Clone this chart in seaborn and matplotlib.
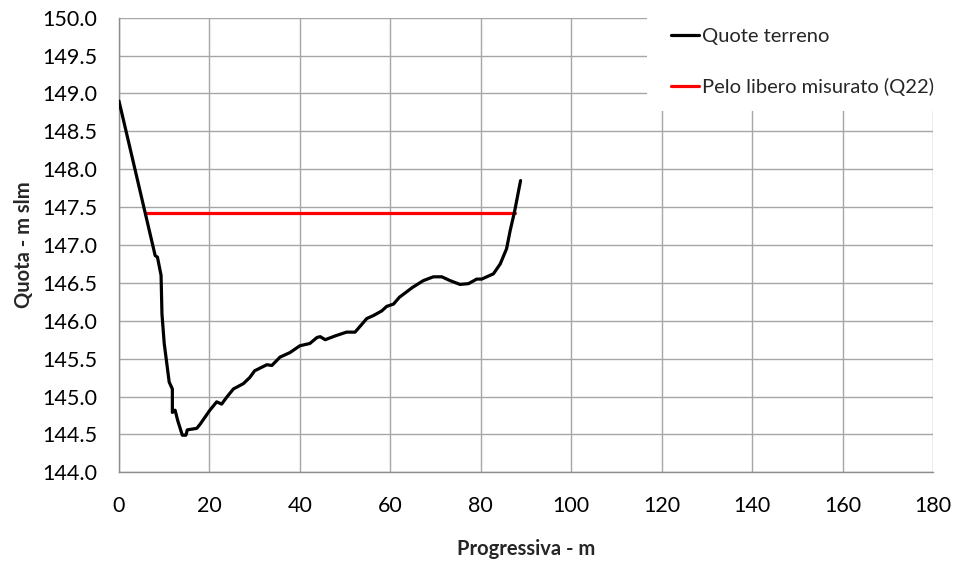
import matplotlib
matplotlib.use("Agg")
import matplotlib.pyplot as plt
import seaborn as sns
import pandas as pd
from matplotlib.patches import Rectangle

# Ground profile of the cross-section (progressive distance in m, elevation in m a.s.l.)
progressiva = [0.0, 8.0, 8.5, 9.3, 9.5, 10.0, 11.1, 11.8, 11.8, 12.4, 13.0, 14.0, 14.8,
               15.1, 17.2, 18.0, 20.1, 21.6, 22.7, 23.8, 25.3, 27.5, 28.9, 30.0, 32.7,
               33.8, 35.6, 37.8, 40.0, 42.2, 43.8, 44.5, 45.6, 47.8, 50.3, 52.2, 54.8,
               56.3, 58.1, 59.2, 60.7, 62.0, 64.9, 67.3, 69.5, 71.4, 73.2, 75.4, 77.3,
               79.1, 80.2, 82.8, 84.3, 85.7, 86.5, 87.5, 88.8]
quota = [148.90, 146.86, 146.84, 146.60, 146.09, 145.70, 145.19, 145.10, 144.79, 144.82,
         144.68, 144.49, 144.49, 144.56, 144.58, 144.64, 144.82, 144.93, 144.90, 144.99,
         145.10, 145.17, 145.25, 145.34, 145.42, 145.41, 145.52, 145.58, 145.67, 145.70,
         145.78, 145.79, 145.75, 145.80, 145.85, 145.85, 146.03, 146.07, 146.13, 146.19,
         146.22, 146.31, 146.44, 146.53, 146.58, 146.58, 146.53, 146.48, 146.49, 146.55,
         146.55, 146.62, 146.75, 146.95, 147.19, 147.45, 147.85]

# Measured free water surface
pelo_x = [6.0, 87.6]
pelo_quota = [147.42, 147.42]

x_ticks = [0, 20, 40, 60, 80, 100, 120, 140, 160, 180]
y_ticks = [144.0, 144.5, 145.0, 145.5, 146.0, 146.5, 147.0, 147.5, 148.0, 148.5,
           149.0, 149.5, 150.0]

sns.set_style("whitegrid")
plt.rcParams["font.family"] = ["Lato", "DejaVu Sans"]

W, H = 957, 563
fig = plt.figure(figsize=(W / 100, H / 100), dpi=100)
ax = fig.add_axes([119 / W, (H - 472.3) / H, 814 / W, (472.3 - 17.7) / H])

terreno = pd.DataFrame({"x": progressiva, "y": quota})
pelo = pd.DataFrame({"x": pelo_x, "y": pelo_quota})

sns.lineplot(data=terreno, x="x", y="y", ax=ax, color="black", linewidth=2.3,
             label="Quote terreno", sort=False, estimator=None, zorder=4)
sns.lineplot(data=pelo, x="x", y="y", ax=ax, color="#ff0000", linewidth=2.3,
             label="Pelo libero misurato (Q22)", sort=False, estimator=None, zorder=3)

ax.set_xlim(0, 180)
ax.set_ylim(144.0, 150.0)
ax.set_xticks(x_ticks)
ax.set_yticks(y_ticks)
ax.set_xticklabels([str(v) for v in x_ticks])
ax.set_yticklabels([f"{v:.1f}" for v in y_ticks])

grid_col = "#a6a6a6"
ax.grid(True, color=grid_col, linewidth=1.0)
for side in ("top", "right"):
    ax.spines[side].set_visible(False)
for side in ("left", "bottom"):
    ax.spines[side].set_color("#8c8c8c")
    ax.spines[side].set_linewidth(1.0)

ax.tick_params(axis="both", which="major", direction="out", length=5.8, width=1.0,
               color="#8c8c8c", labelsize=15.5, labelcolor="black")
ax.tick_params(axis="y", pad=10)
ax.tick_params(axis="x", pad=11)

ax.set_xlabel("Progressiva - m", fontsize=14.5, fontweight="bold", labelpad=17)
ax.set_ylabel("Quota - m slm", fontsize=14.5, fontweight="bold", labelpad=5.5)

# White backdrop behind the legend, hiding the grid in that corner
ax.add_patch(Rectangle((647 / W, (H - 111) / H), (W - 647) / W, 111 / H,
                       transform=fig.transFigure, facecolor="white", edgecolor="none",
                       zorder=1.5, clip_on=False))

leg = ax.legend(loc="upper left", bbox_to_anchor=(671 / W, 1 - 27.5 / H),
                bbox_transform=fig.transFigure, frameon=False, fontsize=14.5,
                handlelength=1.4, handletextpad=0.15, labelspacing=1.65,
                borderpad=0, borderaxespad=0)
for h in leg.get_lines():
    h.set_linewidth(2.3)

fig.savefig("out.png", dpi=100)
